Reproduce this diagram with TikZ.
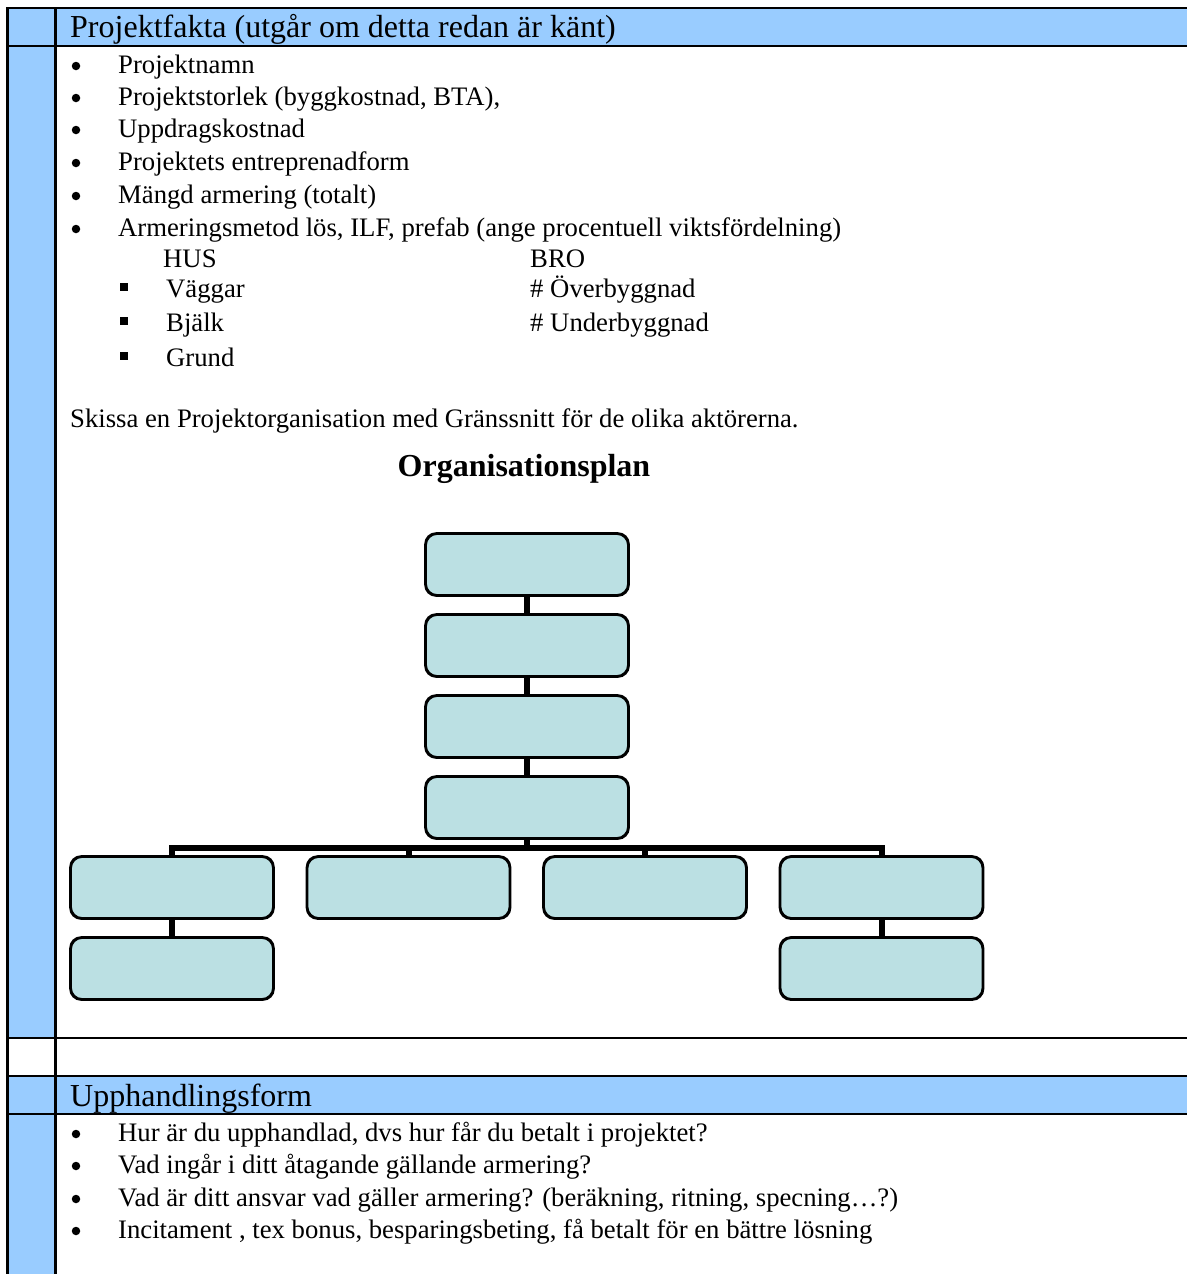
\documentclass[tikz,border=0pt]{standalone}
\usepackage{fontspec}
\setmainfont{Liberation Serif}
\definecolor{hdrblue}{HTML}{99CCFF}
\definecolor{orgfill}{HTML}{BBE0E3}
\begin{document}
\begin{tikzpicture}[x=1pt,y=-1pt,
  rule/.style={line width=2.4pt},
  bodytxt/.style={anchor=base west,inner sep=0pt,font=\fontsize{26.7}{33}\selectfont},
  hdrtxt/.style={anchor=base west,inner sep=0pt,font=\fontsize{32}{38}\selectfont},
  dotbullet/.style={circle,fill=black,inner sep=0pt,minimum size=8.5pt},
  sqbullet/.style={rectangle,fill=black,inner sep=0pt,minimum size=8pt},
  orgbox/.style={draw=black,line width=1.8pt,fill=orgfill,rounded corners=11pt,
    minimum width=202pt,minimum height=61pt,inner sep=0pt},
  link/.style={line width=6pt}]
\useasboundingbox (0,0) rectangle (1187,1274);
% table backgrounds
\fill[white] (0,0) rectangle (1187,1274);
\fill[hdrblue] (7.5,8) rectangle (55.5,1038);
\fill[hdrblue] (55.5,8) rectangle (1187,46);
\fill[hdrblue] (7.5,1076) rectangle (1187,1114);
\fill[hdrblue] (7.5,1114) rectangle (55.5,1274);
% table rules
\draw[rule] (7.5,1274) -- (7.5,8) -- (1187,8);
\draw[rule] (55.5,8) -- (55.5,1274);
\draw[rule] (7.5,46) -- (1187,46);
\draw[rule] (7.5,1038) -- (1187,1038);
\draw[rule] (7.5,1076) -- (1187,1076);
\draw[rule] (7.5,1114) -- (1187,1114);

% section 1
\node[hdrtxt] (h1) at (70,37) {Projektfakta (utgår om detta redan är känt)};
\foreach \y/\t [count=\i] in {73/Projektnamn,
  105/{Projektstorlek (byggkostnad, BTA),},
  137/Uppdragskostnad,
  170/Projektets entreprenadform,
  203/Mängd armering (totalt),
  236/{Armeringsmetod lös, ILF, prefab (ange procentuell viktsfördelning)}} {
  \node[dotbullet] (pb\i) at (76,\y-7) {};
  \node[bodytxt] (pt\i) at (118,\y) {\t};
}
\node[bodytxt] (hus) at (163,267) {HUS};
\node[bodytxt] (bro) at (530,267) {BRO};
\foreach \y/\t [count=\i] in {297/Väggar,331/Bjälk,366/Grund} {
  \node[sqbullet] (sb\i) at (124,\y-10) {};
  \node[bodytxt] (st\i) at (166,\y) {\t};
}
\node[bodytxt] (ob) at (530,297) {\# Överbyggnad};
\node[bodytxt] (ub) at (530,331) {\# Underbyggnad};
\node[bodytxt] (sk) at (70,427) {Skissa en Projektorganisation med Gränssnitt för de olika aktörerna.};
\node[anchor=base,inner sep=0pt,font=\fontsize{32}{38}\selectfont\bfseries] (op) at (524,476) {Organisationsplan};

% organisation chart
\node[orgbox] (c1) at (527,564.5) {};
\node[orgbox] (c2) at (527,645.5) {};
\node[orgbox] (c3) at (527,726.5) {};
\node[orgbox] (c4) at (527,807.5) {};
\node[orgbox] (b1) at (172,887.5) {};
\node[orgbox] (b2) at (408.5,887.5) {};
\node[orgbox] (b3) at (645,887.5) {};
\node[orgbox] (b4) at (881.5,887.5) {};
\node[orgbox] (d1) at (172,968.5) {};
\node[orgbox] (d4) at (881.5,968.5) {};
\coordinate (bus) at (527,848);
\draw[link] (c1.south) -- (c2.north);
\draw[link] (c2.south) -- (c3.north);
\draw[link] (c3.south) -- (c4.north);
\draw[link] (c4.south) -- (bus);
\draw[link] (b1.north) |- (bus) -| (b4.north);
\draw[link] (b2.north) -- (b2.north |- bus);
\draw[link] (b3.north) -- (b3.north |- bus);
\draw[link] (b1.south) -- (d1.north);
\draw[link] (b4.south) -- (d4.north);
% box outlines redrawn over the connector ends
\foreach \n in {c1,c2,c3,c4,b1,b2,b3,b4,d1,d4}
  \draw[line width=1.8pt,rounded corners=11pt] (\n.south west) rectangle (\n.north east);

% section 2
\node[hdrtxt] (h2) at (70,1106) {Upphandlingsform};
\foreach \y/\t [count=\i] in {1141/{Hur är du upphandlad, dvs hur får du betalt i projektet?},
  1173/{Vad ingår i ditt åtagande gällande armering?},
  1206/{Vad är ditt ansvar vad gäller armering? (beräkning, ritning, specning…?)},
  1238/{Incitament , tex bonus, besparingsbeting, få betalt för en bättre lösning}} {
  \node[dotbullet] (qb\i) at (76,\y-7) {};
  \node[bodytxt] (qt\i) at (118,\y) {\t};
}
\end{tikzpicture}
\end{document}
